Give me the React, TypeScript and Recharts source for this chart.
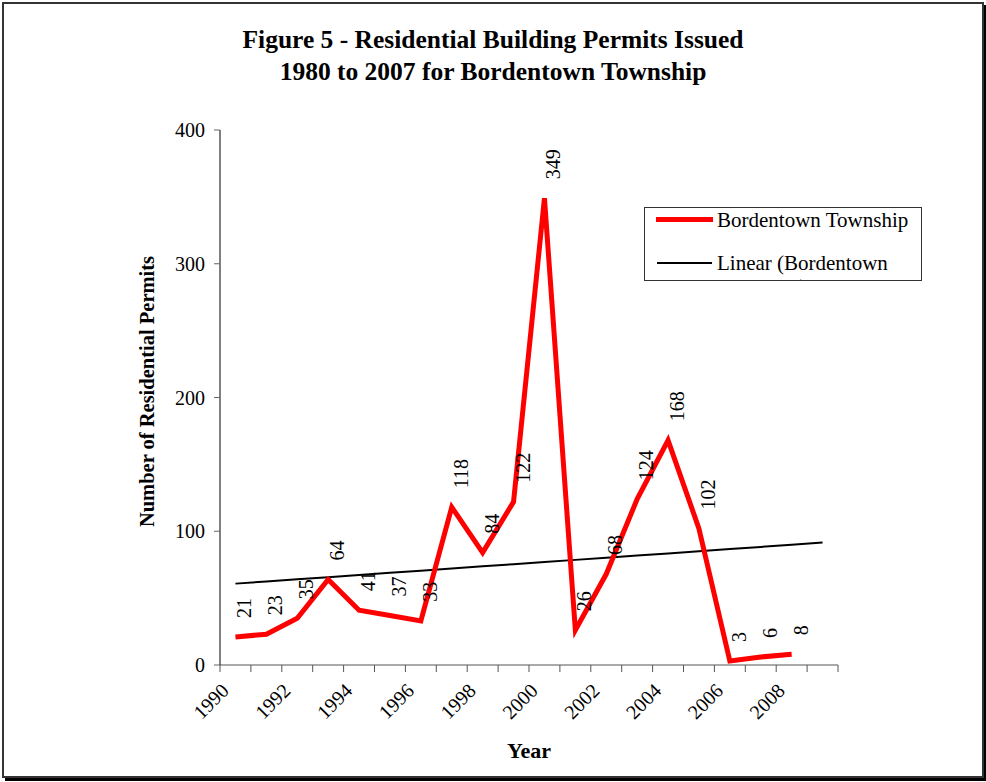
import { Legend, LabelList, Line, LineChart, XAxis, YAxis } from "recharts";

// Figure 5 — residential building permits for Bordentown Township, with an
// Excel-style linear trendline. Points sit in the middle of each year slot.
const years = [
  1990, 1991, 1992, 1993, 1994, 1995, 1996, 1997, 1998, 1999, 2000, 2001, 2002,
  2003, 2004, 2005, 2006, 2007, 2008,
];
const permits = [21, 23, 35, 64, 41, 37, 33, 118, 84, 122, 349, 26, 68, 124, 168, 102, 3, 6, 8];
const yTicks = [0, 100, 200, 300, 400];
const xTicks = [
  1990, 1991, 1992, 1993, 1994, 1995, 1996, 1997, 1998, 1999, 2000, 2001, 2002,
  2003, 2004, 2005, 2006, 2007, 2008, 2009, 2010,
];
const xTickLabels = ["1990", "1992", "1994", "1996", "1998", "2000", "2002", "2004", "2006", "2008"];

const FONT = '"Liberation Serif", "Times New Roman", serif';

// least squares fit over the point index, like Excel's linear trendline
function linearFit(values: number[]) {
  const n = values.length;
  const mx = (n - 1) / 2;
  const my = values.reduce((a, b) => a + b, 0) / n;
  let sxy = 0;
  let sxx = 0;
  values.forEach((v, i) => {
    sxy += (i - mx) * (v - my);
    sxx += (i - mx) * (i - mx);
  });
  const slope = sxy / sxx;
  return (i: number) => my + slope * (i - mx);
}

const trend = linearFit(permits);
const lastYear = xTicks[xTicks.length - 1];
const data = xTicks
  .filter((y) => y < lastYear)
  .map((y, i) => ({
    x: y + 0.5,
    permits: i < years.length ? permits[i] : undefined,
    trend: trend(i),
  }));

function XTick(props: any) {
  const { x, y, payload } = props;
  const label = String(payload.value);
  const lx = x + 5;
  const ly = y + 14;
  return (
    <g>
      <line x1={x} y1={y - 8} x2={x} y2={y - 1} stroke="#555" strokeWidth={1} />
      {xTickLabels.includes(label) && (
        <text
          x={lx}
          y={ly}
          transform={`rotate(-45, ${lx}, ${ly})`}
          textAnchor="end"
          dominantBaseline="central"
          fontFamily={FONT}
          fontSize={20}
          fill="#000"
        >
          {label}
        </text>
      )}
    </g>
  );
}

function ValueLabel(props: any) {
  const { x, y, value } = props;
  if (value === undefined || value === null) return null;
  const lx = x + 9;
  const ly = y - 19;
  return (
    <text
      x={lx}
      y={ly}
      transform={`rotate(-90, ${lx}, ${ly})`}
      textAnchor="start"
      dominantBaseline="central"
      fontFamily={FONT}
      fontSize={20}
      fill="#000"
    >
      {value}
    </text>
  );
}

function ChartLegend() {
  return (
    <div
      style={{
        width: 278,
        height: 74,
        boxSizing: "border-box",
        border: "1px solid #333",
        background: "#fff",
        overflow: "hidden",
        fontFamily: FONT,
        fontSize: 21,
        position: "relative",
      }}
    >
      <div style={{ position: "absolute", left: 11, top: 9, width: 57, height: 5, background: "#ff0000" }} />
      <div style={{ position: "absolute", left: 72, top: 0, lineHeight: "24px" }}>Bordentown Township</div>
      <div style={{ position: "absolute", left: 12, top: 54, width: 55, height: 2, background: "#000" }} />
      <div style={{ position: "absolute", left: 72, top: 43, width: 200, lineHeight: "24px" }}>
        Linear (Bordentown Township)
      </div>
    </div>
  );
}

export default function App() {
  return (
    <div style={{ position: "absolute", left: 0, top: 0, width: 986, height: 782, background: "#fff" }}>
      <div
        style={{
          position: "absolute",
          left: 2,
          top: 2,
          width: 978,
          height: 772,
          border: "2px solid #333",
          boxShadow: "3px 3px 0 #000",
        }}
      />
      <div
        style={{
          position: "absolute",
          left: 0,
          top: 24,
          width: 986,
          textAlign: "center",
          fontFamily: FONT,
          fontWeight: "bold",
          fontSize: 25.5,
          lineHeight: "32px",
        }}
      >
        Figure 5 - Residential Building Permits Issued
        <br />
        1980 to 2007 for Bordentown Township
      </div>
      <LineChart
        width={986}
        height={782}
        data={data}
        margin={{ top: 130, right: 148, left: 160, bottom: 57 }}
        style={{ position: "absolute", left: 0, top: 0 }}
      >
        <XAxis
          dataKey="x"
          type="number"
          domain={[xTicks[0], lastYear]}
          ticks={xTicks}
          interval={0}
          height={60}
          stroke="#555"
          tickLine={false}
          tick={<XTick />}
          label={(p: any) => {
            const vb = p.viewBox;
            return (
              <text
                x={vb.x + vb.width / 2}
                y={750}
                textAnchor="middle"
                dominantBaseline="central"
                fontFamily={FONT}
                fontWeight="bold"
                fontSize={22}
                fill="#000"
              >
                Year
              </text>
            );
          }}
        />
        <YAxis
          type="number"
          domain={[yTicks[0], yTicks[yTicks.length - 1]]}
          ticks={yTicks}
          interval={0}
          width={60}
          stroke="#000"
          tickSize={6}
          tickMargin={9}
          tickLine={{ stroke: "#666" }}
          tick={{ fontFamily: FONT, fontSize: 20, fill: "#000" }}
          label={(p: any) => {
            const vb = p.viewBox;
            const cx = 147;
            const cy = vb.y + vb.height / 2 - 6;
            return (
              <text
                x={cx}
                y={cy}
                transform={`rotate(-90, ${cx}, ${cy})`}
                textAnchor="middle"
                dominantBaseline="central"
                fontFamily={FONT}
                fontWeight="bold"
                fontSize={20.5}
                fill="#000"
              >
                Number of Residential Permits
              </text>
            );
          }}
        />
        <Legend
          layout="horizontal"
          verticalAlign="middle"
          align="center"
          wrapperStyle={{ left: 644, top: 207, width: 278, height: 74 }}
          content={() => <ChartLegend />}
        />
        <Line
          dataKey="trend"
          name="Linear (Bordentown Township)"
          stroke="#000"
          strokeWidth={2}
          dot={false}
          isAnimationActive={false}
        />
        <Line
          dataKey="permits"
          name="Bordentown Township"
          stroke="#ff0000"
          strokeWidth={5}
          dot={false}
          connectNulls={false}
          isAnimationActive={false}
        >
          <LabelList dataKey="permits" content={<ValueLabel />} />
        </Line>
      </LineChart>
    </div>
  );
}
